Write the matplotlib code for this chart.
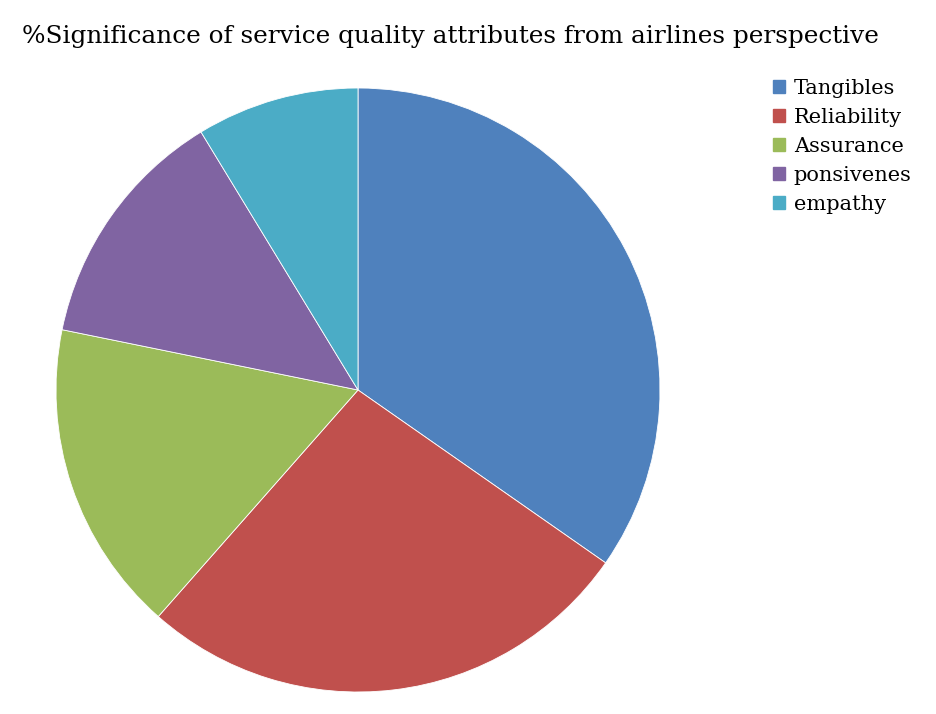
import matplotlib.pyplot as plt

labels = ['Tangibles', 'Reliability', 'Assurance', 'ponsivenes', 'empathy']
values = [34.7, 26.8, 16.7, 13.1, 8.7]
colors = ['#4F81BD', '#C0504D', '#9BBB59', '#8064A2', '#4BACC6']

plt.rcParams['font.family'] = ['DejaVu Serif']

W, H = 937, 714
fig = plt.figure(figsize=(W / 100, H / 100), dpi=100)

# pie centre (358, 390) px, radius 302 px
cx, cy, r = 358, 390, 302
ax = fig.add_axes([(cx - r) / W, (H - cy - r) / H, 2 * r / W, 2 * r / H])
ax.pie(values, colors=colors, startangle=90, counterclock=False,
       wedgeprops=dict(edgecolor='white', linewidth=0.6))
ax.set_xlim(-1, 1)
ax.set_ylim(-1, 1)
ax.set_aspect('equal')

fig.text(22 / W, 1 - 36 / H, '%Significance of service quality attributes from airlines perspective',
         fontsize=17.8, va='center', ha='left')

handles = [plt.Rectangle((0, 0), 1, 1, color=c) for c in colors]
fig.legend(handles, labels, loc='upper left', bbox_to_anchor=(773 / W, 1 - 79 / H),
           frameon=False, fontsize=15, handlelength=0.6, handleheight=0.6,
           handletextpad=0.4, labelspacing=0.48, borderaxespad=0, borderpad=0)

fig.savefig('out.png', dpi=100)
